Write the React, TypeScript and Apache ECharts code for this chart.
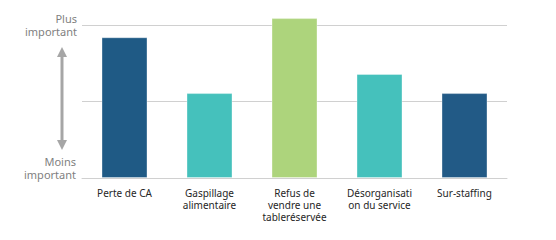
import React, { useEffect, useRef } from "react";
import * as echarts from "echarts";

const categories = [
  "Perte de CA",
  "Gaspillage\nalimentaire",
  "Refus de\nvendre une\ntableréservée",
  "Désorganisati\non du service",
  "Sur-staffing",
];
const values = [1.84, 1.11, 2.09, 1.36, 1.11];
const colors = ["#1F5A85", "#45C1BC", "#ADD47C", "#45C1BC", "#225A86"];
const topLabel = "Plus\nimportant";
const bottomLabel = "Moins\nimportant";

export default function App() {
  const ref = useRef<HTMLDivElement>(null);
  useEffect(() => {
    const chart = echarts.init(ref.current!, undefined, { renderer: "svg" });
    const font = "'Noto Sans', sans-serif";
    chart.setOption({
      animation: false,
      grid: { left: 82, right: 49, top: 25, bottom: 62 },
      xAxis: {
        type: "category",
        data: categories,
        axisLine: { show: true, lineStyle: { color: "#D0D0D0", width: 1 } },
        axisTick: { show: false },
        axisLabel: {
          color: "#262626",
          fontSize: 10,
          fontFamily: font,
          lineHeight: 12,
          margin: 9,
          interval: 0,
        },
      },
      yAxis: {
        type: "value",
        min: 0,
        max: 2,
        interval: 1,
        axisLabel: { show: false },
        axisLine: { show: false },
        axisTick: { show: false },
        splitLine: { lineStyle: { color: "#D0D0D0", width: 1 } },
      },
      series: [
        {
          type: "bar",
          clip: false,
          barWidth: 46,
          data: values.map((v, i) => ({
            value: v,
            itemStyle: { color: colors[i], borderColor: "rgba(255,255,255,0.35)", borderWidth: 1 },
          })),
        },
      ],
      graphic: [
        {
          type: "text",
          x: 77,
          y: 12,
          style: {
            text: topLabel,
            fill: "#7F7F7F",
            font: `11px ${font}`,
            align: "right",
            verticalAlign: "top",
            lineHeight: 13,
          },
        },
        {
          type: "text",
          x: 76,
          y: 155,
          style: {
            text: bottomLabel,
            fill: "#7F7F7F",
            font: `11px ${font}`,
            align: "right",
            verticalAlign: "top",
            lineHeight: 13,
          },
        },
        {
          type: "line",
          shape: { x1: 62, y1: 55, x2: 62, y2: 142 },
          style: { stroke: "#A6A6A6", lineWidth: 3 },
        },
        {
          type: "polygon",
          shape: { points: [[62, 47], [57, 57], [67, 57]] },
          style: { fill: "#A6A6A6" },
        },
        {
          type: "polygon",
          shape: { points: [[62, 150], [57, 140], [67, 140]] },
          style: { fill: "#A6A6A6" },
        },
      ],
    });
    return () => chart.dispose();
  }, []);
  return <div ref={ref} style={{ width: 556, height: 240, margin: -8 }} />;
}
